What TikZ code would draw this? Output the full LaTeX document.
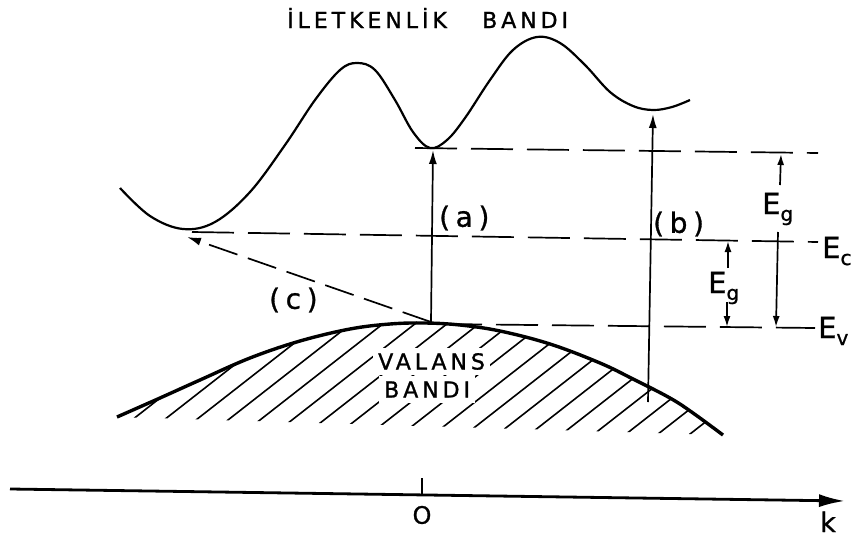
\documentclass[tikz,border=0pt]{standalone}
\usepackage{fontspec}
\setmainfont[FakeBold=1]{DejaVu Sans}
\newfontfamily\ttlfont[LetterSpace=18,FakeBold=1.2]{DejaVu Sans}
\newfontfamily\labfont[LetterSpace=20,FakeBold=1]{DejaVu Sans}
\usetikzlibrary{arrows.meta}
\newcommand{\EsubX}[1]{{\fontsize{29}{32}\selectfont E}\raisebox{-7pt}{\fontsize{20}{23}\selectfont #1}}
\begin{document}
\begin{tikzpicture}[x=1pt,y=-1pt,
  thinline/.style={line width=1.7pt},
  dashline/.style={line width=1.7pt, dash pattern=on 42pt off 14pt},
  cdash/.style={line width=1.7pt, dash pattern=on 30pt off 11pt},
  arr/.style={-{Latex[length=14pt,width=8pt]}},
  egarr/.style={-{Latex[length=11pt,width=7pt]}},
  cband/.style={line width=2.2pt},
  vband/.style={line width=3.4pt},
  hatch/.style={line width=1.6pt},
  ttl/.style={font=\ttlfont\fontsize{22}{26}\selectfont, inner sep=0pt, anchor=base west},
  lab/.style={font=\labfont\fontsize{28}{32}\selectfont, inner sep=0pt, anchor=west},
  elab/.style={inner sep=0pt, anchor=base west}]
\useasboundingbox (0,0) rectangle (860,541);

% title
\node[ttl] (t1) at (287,28) {İLETKENLİK};
\node[ttl] (t2) at (482,28) {BANDI};

% conduction band
\draw[cband] plot[smooth, tension=0.6] coordinates {(120,188) (150,216) (183,229) (215,222) (250,192) (285,145) (315,100) (340,70) (357,63) (375,70) (395,100) (413,132) (430,148) (447,140) (465,118) (490,80) (513,50) (537,37) (560,43) (585,65) (610,92) (633,106) (653,110) (672,107) (690,100)};

% valence band hatching
\begin{scope}
  \clip plot[smooth, tension=0.6] coordinates {(117,417) (160,398) (200,380) (250,358) (300,341) (350,329) (390,324) (425,323) (460,325) (500,331) (550,344) (600,363) (633,379) (670,398) (693,413) (723,435)} -- cycle;
  \foreach \x in {100,132,...,720} \draw[hatch] (\x,445) -- ++(220,-172);
\end{scope}
\node[ttl, fill=white, inner sep=5pt] (v1) at (373,369.5) {VALANS};
\node[ttl, fill=white, inner sep=5pt] (v2) at (379,397.5) {BANDI};
\draw[vband] plot[smooth, tension=0.6] coordinates {(117,417) (160,398) (200,380) (250,358) (300,341) (350,329) (390,324) (425,323) (460,325) (500,331) (550,344) (600,363) (633,379) (670,398) (693,413) (723,435)};

% levels
\coordinate (topL) at (415,148);
\coordinate (topR) at (818,153);
\coordinate (ecL) at (192,232);
\coordinate (ecR) at (818,242);
\coordinate (evL) at (440,324);
\coordinate (evR) at (815,328);
\draw[dashline] (topL) -- (topR);
\draw[dashline] (ecL) -- (ecR);
\draw[dashline] (evL) -- (evR);

% transitions
\coordinate (vtop) at (431,322);
\coordinate (atip) at (433,150);
\coordinate (bfoot) at (648,402);
\coordinate (btip) at (653,114);
\coordinate (ctip) at (187,237);
\draw[thinline, arr] (vtop) -- (atip);
\draw[thinline, arr] (bfoot) -- (btip);
\draw[cdash, arr] (vtop) -- (ctip);
\node[lab] (la) at (439,218) {(a)};
\node[lab] (lb) at (653,224) {(b)};
\node[lab] (lc) at (269,300) {(c)};

% energy gaps
\coordinate (g1a) at (780,185);
\coordinate (g1b) at (781,154);
\coordinate (g2a) at (778,232);
\coordinate (g2b) at (776,327);
\coordinate (g3a) at (728,268);
\coordinate (g3b) at (728,241);
\coordinate (g4a) at (727,302);
\coordinate (g4b) at (727,327);
\draw[thinline, egarr] (g1a) -- (g1b);
\draw[thinline, egarr] (g2a) -- (g2b);
\draw[thinline, egarr] (g3a) -- (g3b);
\draw[thinline, egarr] (g4a) -- (g4b);
\node[elab] (eg1) at (762,214) {\EsubX{g}};
\node[elab] (eg2) at (708,293) {\EsubX{g}};
\node[elab] (ec) at (822,258) {\EsubX{c}};
\node[elab] (ev) at (818,338) {\EsubX{v}};

% k axis
\coordinate (axL) at (10,489);
\coordinate (axR) at (845,501);
\draw[line width=2.8pt, -{Latex[length=26pt,width=13pt]}] (axL) -- (axR);
\coordinate (tk1) at (422,478);
\coordinate (tk2) at (422,495);
\draw[line width=1.7pt] (tk1) -- (tk2);
\node[font=\fontsize{24}{28}\selectfont, inner sep=0pt] (o) at (422,515) {O};
\node[elab, font=\fontsize{27}{30}\selectfont] (k) at (820,532) {k};
\end{tikzpicture}
\end{document}
